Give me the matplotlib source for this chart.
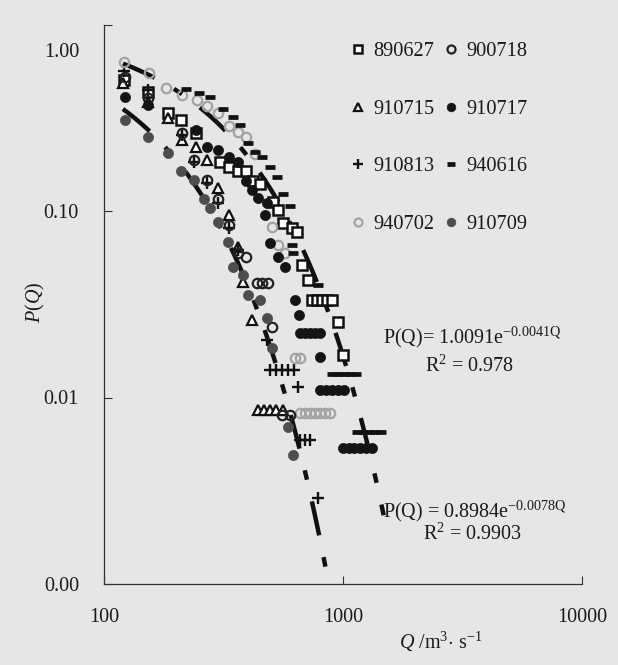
import numpy as np
import matplotlib
matplotlib.use('Agg')
import matplotlib.pyplot as plt

plt.rcParams['font.family'] = ['Liberation Serif', 'DejaVu Serif']
plt.rcParams['mathtext.fontset'] = 'custom'
plt.rcParams['mathtext.rm'] = 'Liberation Serif'
plt.rcParams['mathtext.it'] = 'Liberation Serif:italic'
plt.rcParams['lines.scale_dashes'] = False

# ---------------- data (Q in m3/s, P(Q) exceedance probability) ----------------
q_890627 = [121, 153, 185, 209, 242, 307, 332, 362, 391, 422, 451, 511, 536, 562, 613, 643,
            675, 715, 743, 779, 818, 858, 900, 953, 1000]
p_890627 = [0.503, 0.434, 0.335, 0.308, 0.263, 0.184, 0.172, 0.163, 0.163, 0.144, 0.139, 0.112,
            0.101, 0.086, 0.081, 0.077, 0.0514, 0.0427, 0.0334, 0.0334, 0.0334, 0.0334, 0.0334,
            0.0255, 0.0170]

q_900718 = [122, 153, 213, 237, 271, 301, 332, 362, 391, 438, 460, 487, 506, 557, 601]
p_900718 = [0.522, 0.403, 0.263, 0.188, 0.147, 0.116, 0.084, 0.0595, 0.0567, 0.0412, 0.0412,
            0.0412, 0.0240, 0.00805, 0.00805]

q_910715 = [120, 153, 185, 213, 242, 271, 301, 332, 362, 380, 418, 443, 469, 497, 526, 562]
p_910715 = [0.484, 0.383, 0.315, 0.240, 0.221, 0.188, 0.133, 0.095, 0.064, 0.0417, 0.0261,
            0.00857, 0.00857, 0.00857, 0.00857, 0.00857]

q_910717 = [122, 153, 242, 271, 301, 332, 362, 391, 418, 443, 473, 482, 497, 536, 573, 631, 656,
            662, 695, 729, 764, 802, 802, 802, 849, 900, 953, 1010,
            1000, 1059, 1111, 1177, 1247, 1321]
p_910717 = [0.407, 0.370, 0.272, 0.221, 0.213, 0.195, 0.182, 0.144, 0.130, 0.118, 0.095, 0.111,
            0.0673, 0.0567, 0.050, 0.0334, 0.0278,
            0.0223, 0.0223, 0.0223, 0.0223, 0.0223, 0.0165, 0.0110, 0.0110, 0.0110, 0.0110, 0.0110,
            0.00538, 0.00538, 0.00538, 0.00538, 0.00538, 0.00538]

q_910813 = [121, 153, 213, 237, 271, 301, 332, 362, 482, 497, 526, 557, 590, 625, 649, 662, 695,
            729, 787]
p_910813 = [0.562, 0.444, 0.256, 0.184, 0.142, 0.111, 0.081, 0.0617, 0.0204, 0.0141, 0.0141,
            0.0141, 0.0141, 0.0141, 0.0114, 0.00592, 0.00592, 0.00592, 0.0029]

q_940616 = [220, 249, 279, 316, 345, 372, 402, 430, 460, 497, 531, 562, 601, 613, 619, 787,
            900, 953, 1010, 1070, 1133, 1144, 1212, 1283, 1359, 1440]
p_940616 = [0.450, 0.428, 0.407, 0.352, 0.319, 0.289, 0.232, 0.208, 0.195, 0.172, 0.152, 0.123,
            0.106, 0.0656, 0.0595, 0.0401, 0.0133, 0.0133, 0.0133, 0.0133, 0.0133,
            0.00654, 0.00654, 0.00654, 0.00654, 0.00654]

q_940702 = [121, 154, 181, 213, 246, 271, 301, 332, 362, 391, 430, 506, 536, 573, 631, 662,
            662, 695, 729, 764, 802, 841, 883]
p_940702 = [0.627, 0.547, 0.456, 0.418, 0.393, 0.365, 0.335, 0.286, 0.266, 0.250, 0.201, 0.0818,
            0.0656, 0.0595, 0.0163, 0.0163, 0.00826, 0.00826, 0.00826, 0.00826, 0.00826, 0.00826,
            0.00826]

q_910709 = [122, 153, 185, 209, 237, 261, 279, 301, 329, 348, 383, 402, 451, 482, 506, 590, 619]
p_910709 = [0.308, 0.250, 0.205, 0.163, 0.147, 0.116, 0.104, 0.087, 0.068, 0.050, 0.0455, 0.0355,
            0.0334, 0.0267, 0.0185, 0.00695, 0.00493]

# fitted trend lines  P(Q) = a * exp(-b Q)
fit1_a, fit1_b, fit1_r2, fit1_q = 1.0091, 0.0041, 0.978, [120, 1480]
fit2_a, fit2_b, fit2_r2, fit2_q = 0.8984, 0.0078, 0.9903, [120, 900]

x_ticks = [100, 1000, 10000]
x_ticklabels = ['100', '1000', '10000']
y_ticks = [0.001, 0.01, 0.1, 1.0]
y_ticklabels = ['0.00', '0.01', '0.10', '']

# ---------------- figure ----------------
BG = '#e6e6e6'
W, H = 618, 665
fig = plt.figure(figsize=(W / 100, H / 100), dpi=100, facecolor=BG)
ax = fig.add_axes([104 / W, 1 - 584 / H, 478 / W, 559.5 / H])
ax.set_facecolor(BG)
ax.set_xscale('log')
ax.set_yscale('log')
ax.set_xlim(100, 10000)
ax.set_ylim(0.001, 1.0)

FS = 14.5
ax.set_xticks(x_ticks)
ax.set_xticklabels(x_ticklabels)
ax.set_yticks(y_ticks)
ax.set_yticklabels(y_ticklabels)
ax.minorticks_off()
ax.tick_params(axis='both', direction='in', length=6, width=0.8, color='#333333',
               labelsize=FS, labelcolor='#1a1a1a')
ax.tick_params(axis='y', pad=18)
ax.tick_params(axis='x', pad=17)
for s in ['top', 'right']:
    ax.spines[s].set_visible(False)
for s in ['left', 'bottom']:
    ax.spines[s].set_color('#333333')
    ax.spines[s].set_linewidth(0.9)

ax.annotate('1.00', xy=(0, 1), xycoords='axes fraction', xytext=(-18, -20),
            textcoords='offset points', ha='right', va='center', fontsize=FS, color='#1a1a1a')

# trend lines
for a, b, rng in [(fit1_a, fit1_b, fit1_q), (fit2_a, fit2_b, fit2_q)]:
    qq = np.geomspace(rng[0], rng[1], 400)
    ax.plot(qq, a * np.exp(-b * qq), color='#111111', lw=3.2, dashes=(25, 16, 7, 16),
            dash_capstyle='butt', zorder=2)

MS = 6.8
series = [
    ('890627', q_890627, p_890627, dict(marker='s', ms=MS, mfc='white', mec='#111111', mew=1.8)),
    ('910715', q_910715, p_910715, dict(marker='^', ms=MS + 0.8, mfc='white', mec='#111111', mew=1.6)),
    ('910813', q_910813, p_910813, dict(marker='+', ms=MS + 1.5, mec='#111111', mew=1.7)),
    ('940702', q_940702, p_940702, dict(marker='o', ms=MS, mfc='none', mec='#a3a3a3', mew=1.6)),
    ('900718', q_900718, p_900718, dict(marker='o', ms=MS, mfc='none', mec='#222222', mew=1.6)),
    ('910717', q_910717, p_910717, dict(marker='o', ms=MS + 0.5, mfc='#141414', mec='#141414', mew=0.5)),
    ('940616', q_940616, p_940616, dict(marker='_', ms=MS + 0.5, mec='#111111', mew=3.4)),
    ('910709', q_910709, p_910709, dict(marker='o', ms=MS + 0.5, mfc='#4d4d4d', mec='#4d4d4d', mew=0.5)),
]
handles = []
for name, q, p, st in series:
    h, = ax.plot(q, p, linestyle='none', label=name, zorder=3, **st)
    handles.append(h)

leg = ax.legend(handles=handles, ncol=2, frameon=False, fontsize=FS + 0.2,
                loc='upper left', bbox_to_anchor=(351 / W, 1 - 42 / H),
                bbox_transform=fig.transFigure, borderpad=0, borderaxespad=0,
                handlelength=0.7, handletextpad=0.4, columnspacing=0.45,
                labelspacing=1.87, markerscale=0.85)
for t in leg.get_texts():
    t.set_color('#1a1a1a')

# equations
TC = '#1a1a1a'
fig.text(383 / W, 1 - 343 / H, r'P(Q)= 1.0091e$^{\mathrm{-0.0041Q}}$', fontsize=FS,
         ha='left', va='baseline', color=TC)
fig.text(425 / W, 1 - 372 / H, r'R$^{2}$ = 0.978', fontsize=FS, ha='left', va='baseline', color=TC)
fig.text(383 / W, 1 - 517 / H, r'P(Q) = 0.8984e$^{\mathrm{-0.0078Q}}$', fontsize=FS,
         ha='left', va='baseline', color=TC)
fig.text(423 / W, 1 - 540 / H, r'R$^{2}$ = 0.9903', fontsize=FS, ha='left', va='baseline', color=TC)

# axis labels
fig.text(35 / W, 1 - 302 / H, r'$P$($Q$)', fontsize=FS, rotation=90, ha='center', va='center', color=TC)
fig.text(399 / W, 1 - 642 / H, r'$Q$ /m$^{3}$$\cdot$ s$^{-1}$', fontsize=FS, ha='left',
         va='center', color=TC)

fig.savefig('out.png', dpi=100, facecolor=BG)
